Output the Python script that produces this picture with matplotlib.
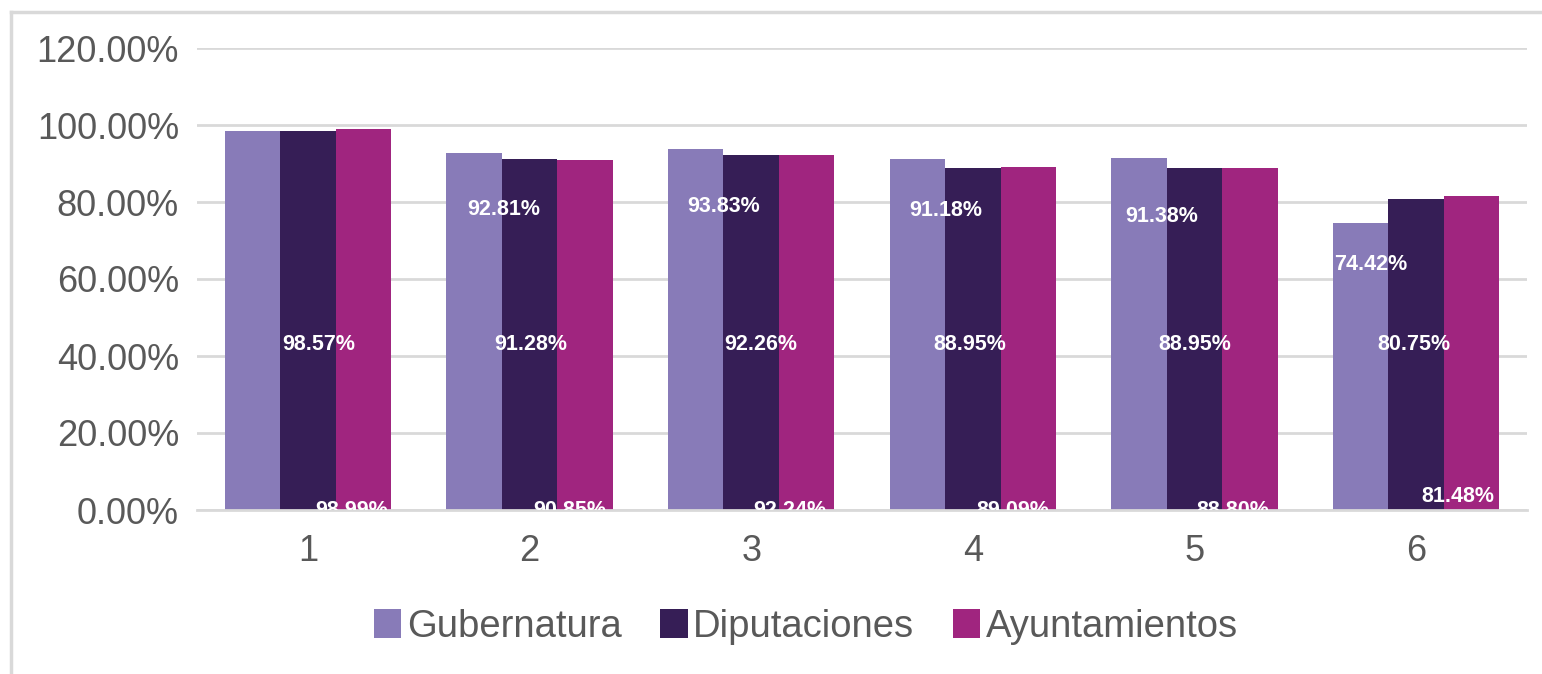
import matplotlib
matplotlib.use("Agg")
import matplotlib.pyplot as plt
import numpy as np
from matplotlib.lines import Line2D
from matplotlib.ticker import FuncFormatter

plt.rcParams["font.family"] = ["Liberation Sans", "DejaVu Sans"]

categories = ["1", "2", "3", "4", "5", "6"]
gubernatura = [98.35, 92.81, 93.83, 91.18, 91.38, 74.42]
diputaciones = [98.57, 91.28, 92.26, 88.95, 88.95, 80.75]
ayuntamientos = [98.99, 90.85, 92.24, 89.09, 88.80, 81.48]
series_names = ["Gubernatura", "Diputaciones", "Ayuntamientos"]
colors = ["#887bb8", "#361e56", "#a0257f"]

# label placement (pixels), mimicking the original's odd layout
gub_show = [False, True, True, True, True, True]
gub_dx = [28, 30, 28, 28, 23, 10]
gub_dy = [-55, -57, -58, -52, -58, -41]
dip_dx = [11, 1, 10, -3, 0, -2]
ayu_dx = [-12, -15, -17, -15, -17, -14]
ayu_dy = [-1, -1, -1, -1, -1, 13]

fig = plt.figure(figsize=(15.42, 6.74), dpi=100)
ax = fig.add_axes([197 / 1542, 1 - 510 / 674, (1527 - 197) / 1542, (510 - 48) / 674])

x = np.arange(len(categories))
w = 0.25
data = [np.array(gubernatura) / 100, np.array(diputaciones) / 100, np.array(ayuntamientos) / 100]
for j, vals in enumerate(data):
    ax.bar(x + (j - 1) * w, vals, w, color=colors[j], label=series_names[j], zorder=2)

lab = dict(color="white", fontsize=15.5, fontweight="bold", ha="center",
           textcoords="offset pixels", zorder=3, clip_on=True)
for i in range(len(categories)):
    if gub_show[i]:
        ax.annotate(f"{gubernatura[i]:.2f}%", (x[i] - w, data[0][i]),
                    xytext=(gub_dx[i], gub_dy[i]), va="center", **lab)
    ax.annotate(f"{diputaciones[i]:.2f}%", (x[i], 0.43),
                xytext=(dip_dx[i], 0), va="center", **lab)
    ax.annotate(f"{ayuntamientos[i]:.2f}%", (x[i] + w, 0),
                xytext=(ayu_dx[i], ayu_dy[i]), va="center", **lab)

ax.set_xlim(-0.5, len(categories) - 0.5)
ax.set_ylim(0, 1.2)
ax.set_yticks(np.arange(0, 1.21, 0.2))
ax.yaxis.set_major_formatter(FuncFormatter(lambda v, p: f"{v * 100:.2f}%"))
ax.set_xticks(x)
ax.set_xticklabels(categories)
ax.tick_params(axis="both", length=0, labelsize=26, labelcolor="#595959")
ax.tick_params(axis="x", pad=17.5)
ax.tick_params(axis="y", pad=13)
ax.grid(axis="y", color="#d9d9d9", linewidth=2, zorder=0)
for s in ["top", "right", "left"]:
    ax.spines[s].set_visible(False)
ax.spines["bottom"].set_color("#d9d9d9")
ax.spines["bottom"].set_linewidth(2)

leg = fig.legend(loc="center", bbox_to_anchor=(806 / 1542, 1 - 627 / 674), ncol=3,
                 frameon=False, fontsize=27.5, handlelength=0.72, handleheight=0.8,
                 handletextpad=0.15, columnspacing=1.0, labelcolor="#595959")

# chart border
fig.add_artist(Line2D([11 / 1542, 11 / 1542], [0, 1 - 12 / 674], color="#d9d9d9", linewidth=2.5))
fig.add_artist(Line2D([11 / 1542, 1], [1 - 12 / 674, 1 - 12 / 674], color="#d9d9d9", linewidth=2.5))

fig.savefig("out.png", dpi=100)
